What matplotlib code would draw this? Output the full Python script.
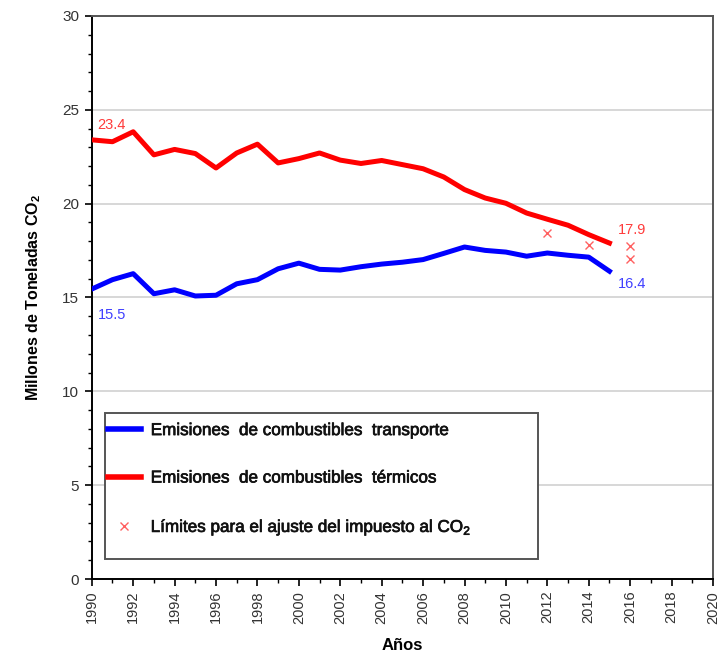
import numpy as np
import matplotlib
matplotlib.use('Agg')
from matplotlib import pyplot as plt
from matplotlib import patheffects as pe
from matplotlib.patches import Rectangle
from matplotlib.ticker import MultipleLocator

plt.rcParams['font.family'] = ['Liberation Sans', 'DejaVu Sans']
plt.rcParams['mathtext.fontset'] = 'custom'
plt.rcParams['mathtext.rm'] = 'Liberation Sans'
plt.rcParams['mathtext.bf'] = 'Liberation Sans:bold'

# emisiones anuales, millones de toneladas CO2
years = list(range(1990, 2016))
transporte = [15.45, 15.95, 16.27, 15.2, 15.41, 15.08, 15.12, 15.73, 15.95, 16.53,
              16.83, 16.5, 16.46, 16.64, 16.78, 16.88, 17.02, 17.35, 17.69, 17.51,
              17.42, 17.2, 17.37, 17.25, 17.15, 16.4]
termicos = [23.4, 23.3, 23.83, 22.6, 22.89, 22.67, 21.9, 22.7, 23.17, 22.17,
            22.4, 22.7, 22.32, 22.14, 22.3, 22.08, 21.86, 21.42, 20.75, 20.3,
            20.02, 19.5, 19.17, 18.85, 18.35, 17.9]

# limites para el ajuste del impuesto al CO2
lim_years = [2012, 2014, 2016, 2016]
lim_vals = [18.45, 17.8, 17.75, 17.05]

fig = plt.figure(figsize=(7.17, 6.6), dpi=100)
ax = fig.add_axes([0.128, 0.1227, 0.8664, 0.8531])

ax.plot(years, transporte, color='#0000ff', lw=3.6, solid_joinstyle='round',
        label='Emisiones  de combustibles  transporte', zorder=3)
ax.plot(years, termicos, color='#ff0000', lw=3.6, solid_joinstyle='round',
        label='Emisiones  de combustibles  térmicos', zorder=3)
ax.plot(lim_years, lim_vals, ls='none', marker='x', ms=6, mew=1.0, color='#ff6060',
        label='Límites para el ajuste del impuesto al CO$_2$', zorder=4)

# etiquetas de valores inicial y final
ax.text(years[0] + 0.25, termicos[0] + 0.6, '23.4', color='#ff3b3b', fontsize=10.5)
ax.text(years[0] + 0.3, transporte[0] - 1.6, '15.5', color='#4040ff', fontsize=10.5)
ax.text(years[-1] + 0.4, termicos[-1] + 0.5, '17.9', color='#ff3b3b', fontsize=10.5)
ax.text(years[-1] + 0.4, transporte[-1] - 0.9, '16.4', color='#4040ff', fontsize=10.5)

ax.set_xlim(1990, 2020)
ax.set_ylim(0, 30)
ax.xaxis.set_major_locator(MultipleLocator(2))
ax.xaxis.set_minor_locator(MultipleLocator(1))
ax.yaxis.set_major_locator(MultipleLocator(5))
ax.yaxis.set_minor_locator(MultipleLocator(1))
ax.tick_params(axis='x', which='major', labelrotation=90, labelsize=10.5, length=5, width=1.2)
ax.tick_params(axis='y', which='major', labelsize=11, length=5, width=1.2, pad=4)
ax.tick_params(which='minor', length=3, width=1)
for lab in ax.get_xticklabels() + ax.get_yticklabels():
    lab.set_color('#333333')

ax.grid(axis='y', which='major', color='#d4d4d4', lw=1.3)
ax.set_axisbelow(True)
for side in ['left', 'bottom']:
    ax.spines[side].set_linewidth(1.4)
    ax.spines[side].set_color('#000000')
for side in ['top', 'right']:
    ax.spines[side].set_linewidth(1.4)
    ax.spines[side].set_color('#555555')

ax.set_ylabel('Millones de Toneladas CO$_\\mathbf{2}$', fontsize=11.5, fontweight='bold', labelpad=14)
ax.set_xlabel('Años', fontsize=12, fontweight='bold', labelpad=10)

# marco de la leyenda dibujado aparte (más espacio abajo, como el original)
ax.add_patch(Rectangle((0.0209, 0.0355), 0.697, 0.2593, transform=ax.transAxes,
                       facecolor='white', edgecolor='#555555', lw=1.4, zorder=5))
leg = ax.legend(loc='upper left', bbox_to_anchor=(0.0258, 0.277), frameon=False,
                borderaxespad=0, borderpad=0, handlelength=1.93, handletextpad=0.58,
                labelspacing=1.9, prop={'size': 12.3})
leg.set_zorder(6)
for t in leg.get_texts():
    t.set_color('#111111')
    t.set_path_effects([pe.withStroke(linewidth=0.5, foreground='#111111')])
for h in leg.legend_handles[:2]:
    h.set_linewidth(4)

plt.savefig('out.png', dpi=100)
